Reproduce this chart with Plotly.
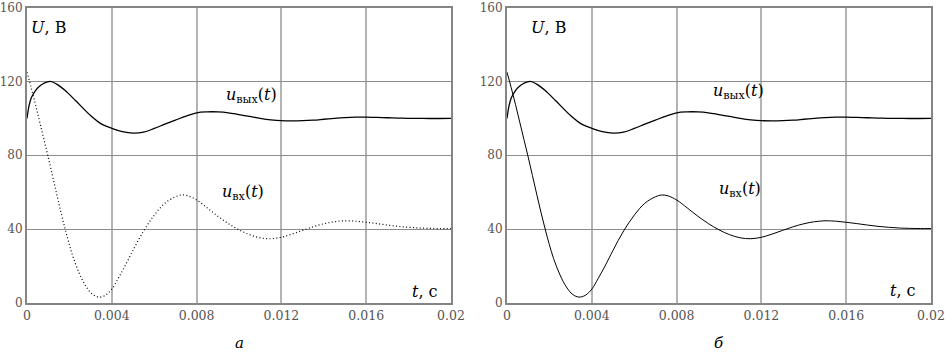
import plotly.graph_objects as go

# time points (s) and read-off values (V)
t_out = [0, 0.0001, 0.0002, 0.0004, 0.0006, 0.0008, 0.0011, 0.0014, 0.0018, 0.0023,
         0.003, 0.0035, 0.004, 0.0045, 0.005, 0.0055, 0.006, 0.0065, 0.007, 0.0075,
         0.008, 0.0085, 0.009, 0.0095, 0.01, 0.0105, 0.011, 0.0115, 0.012, 0.0125,
         0.013, 0.0135, 0.014, 0.0145, 0.015, 0.0155, 0.016, 0.0165, 0.017, 0.0175,
         0.018, 0.019, 0.02]
u_out = [100, 107, 111, 115, 117.5, 119, 120, 118.5, 115, 109.5,
         101.5, 97, 94.6, 92.8, 92, 92.5, 94.5, 96.8, 99, 101.2,
         103, 103.5, 103.5, 103, 102, 101, 100, 99.2, 98.7, 98.6,
         98.7, 99, 99.5, 100, 100.4, 100.6, 100.6, 100.5, 100.3, 100.1,
         100, 99.9, 100]

t_in = [0, 0.0002, 0.0004, 0.0006, 0.0008, 0.001, 0.0012, 0.0014, 0.0016, 0.0018,
        0.002, 0.0022, 0.0025, 0.0028, 0.0031, 0.0034, 0.0037, 0.004, 0.0043, 0.0046,
        0.005, 0.0055, 0.006, 0.0065, 0.007, 0.0073, 0.0076, 0.008, 0.0085, 0.009,
        0.0095, 0.01, 0.0105, 0.011, 0.0115, 0.012, 0.0125, 0.013, 0.0135, 0.014,
        0.0145, 0.015, 0.0155, 0.016, 0.0165, 0.017, 0.0175, 0.018, 0.0185, 0.019,
        0.0195, 0.02]
u_in = [125, 116.5, 107.5, 98, 88.5, 79, 69, 59, 49.2, 40,
        31.5, 24, 15.2, 8.7, 4.6, 3.2, 4.2, 7.5, 13.3, 19.5,
        28.5, 39, 47.5, 54, 57.5, 58.5, 58, 55.8, 51.5, 47,
        43, 39.6, 37, 35.3, 34.8, 35.6, 37.3, 39.3, 41.3, 42.9,
        44, 44.5, 44.3, 43.7, 43, 42.2, 41.5, 41, 40.6, 40.4,
        40.3, 40.3]

x_ticks = [0, 0.004, 0.008, 0.012, 0.016, 0.02]
x_ticktext = ["0", "0.004", "0.008", "0.012", "0.016", "0.02"]
y_ticks = [0, 40, 80, 120, 160]
y_ticktext = ["0", "40", "80", "120", "160"]
panel_labels = ["а", "б"]

W, H = 946, 360
FONT = "DejaVu Serif"

fig = go.Figure()

# left panel: input dotted
fig.add_trace(go.Scatter(x=t_out, y=u_out, mode="lines", line=dict(color="black", width=1.3, shape="spline"),
                         xaxis="x", yaxis="y", showlegend=False))
fig.add_trace(go.Scatter(x=t_in, y=u_in, mode="lines",
                         line=dict(color="black", width=1.2, dash="1px,2.4px", shape="spline"),
                         xaxis="x", yaxis="y", showlegend=False))
# right panel: input solid
fig.add_trace(go.Scatter(x=t_out, y=u_out, mode="lines", line=dict(color="black", width=1.3, shape="spline"),
                         xaxis="x2", yaxis="y2", showlegend=False))
fig.add_trace(go.Scatter(x=t_in, y=u_in, mode="lines", line=dict(color="black", width=1.0, shape="spline"),
                         xaxis="x2", yaxis="y2", showlegend=False))

ydom = [(H - 303) / H, (H - 7.5) / H]
doms = [[27 / W, 451 / W], [507 / W, 931 / W]]

def xaxis(dom, anchor):
    return dict(domain=dom, anchor=anchor, range=[0, 0.02], tickvals=x_ticks, ticktext=x_ticktext,
                showgrid=True, gridcolor="#b4b4b4", gridwidth=2, zeroline=False, automargin=False,
                showline=True, mirror=True, linecolor="#858585", linewidth=2,
                ticks="", ticklabeloverflow="allow",
                tickfont=dict(family=FONT, size=12.5, color="#555"))

def yaxis(anchor):
    return dict(domain=ydom, anchor=anchor, range=[0, 160], tickvals=y_ticks, ticktext=y_ticktext,
                showgrid=True, gridcolor="#8c8c8c", gridwidth=1, zeroline=False, automargin=False,
                showline=True, mirror=True, linecolor="#858585", linewidth=2,
                ticks="", ticklabelstandoff=0, ticklabeloverflow="allow",
                tickfont=dict(family=FONT, size=12, color="#555"))

fig.update_layout(
    width=W, height=H, margin=dict(l=0, r=0, t=0, b=0, autoexpand=False),
    paper_bgcolor="white", plot_bgcolor="white",
    xaxis=xaxis(doms[0], "y"), yaxis=yaxis("x"),
    xaxis2=xaxis(doms[1], "y2"), yaxis2=yaxis("x2"),
    font=dict(family=FONT, color="black"),
)

pos_U = [0.005, 0.052]
pos_out = [(0.0093, 112.6), (0.0096, 114.5)]
pos_in = [(0.0091, 59.6), (0.0099, 61.5)]
pos_t = [(0.0195, 6), (0.0194, 7)]

ann = []
for i, (xr, yr) in enumerate([("x", "y"), ("x2", "y2")]):
    xd = "x domain" if i == 0 else "x2 domain"
    yd = "y domain" if i == 0 else "y2 domain"
    ann.append(dict(x=pos_U[i], y=0.934, xref=xd, yref=yd, text="<i>U</i>, В", showarrow=False,
                    xanchor="left", yanchor="middle", font=dict(family=FONT, size=16, color="black")))
    ann.append(dict(x=pos_out[i][0], y=pos_out[i][1], xref=xr, yref=yr, xanchor="left", yanchor="middle",
                    text="<i>u</i><sub>вых</sub>(<i>t</i>)", showarrow=False,
                    font=dict(family=FONT, size=16, color="black")))
    ann.append(dict(x=pos_in[i][0], y=pos_in[i][1], xref=xr, yref=yr, xanchor="left", yanchor="middle",
                    text="<i>u</i><sub>вх</sub>(<i>t</i>)", showarrow=False,
                    font=dict(family=FONT, size=16, color="black")))
    ann.append(dict(x=pos_t[i][0], y=pos_t[i][1], xref=xr, yref=yr, xanchor="right", yanchor="middle",
                    text="<i>t</i>, с", showarrow=False,
                    font=dict(family=FONT, size=16, color="black")))
    ann.append(dict(x=0.5, y=-0.135, xref=xd, yref=yd, xanchor="center", yanchor="middle",
                    text="<i>" + panel_labels[i] + "</i>", showarrow=False,
                    font=dict(family=FONT, size=15, color="black")))
fig.update_layout(annotations=ann)

fig.write_html("out.html", config={"displayModeBar": False},
               post_script="document.body.style.margin='0px';")
